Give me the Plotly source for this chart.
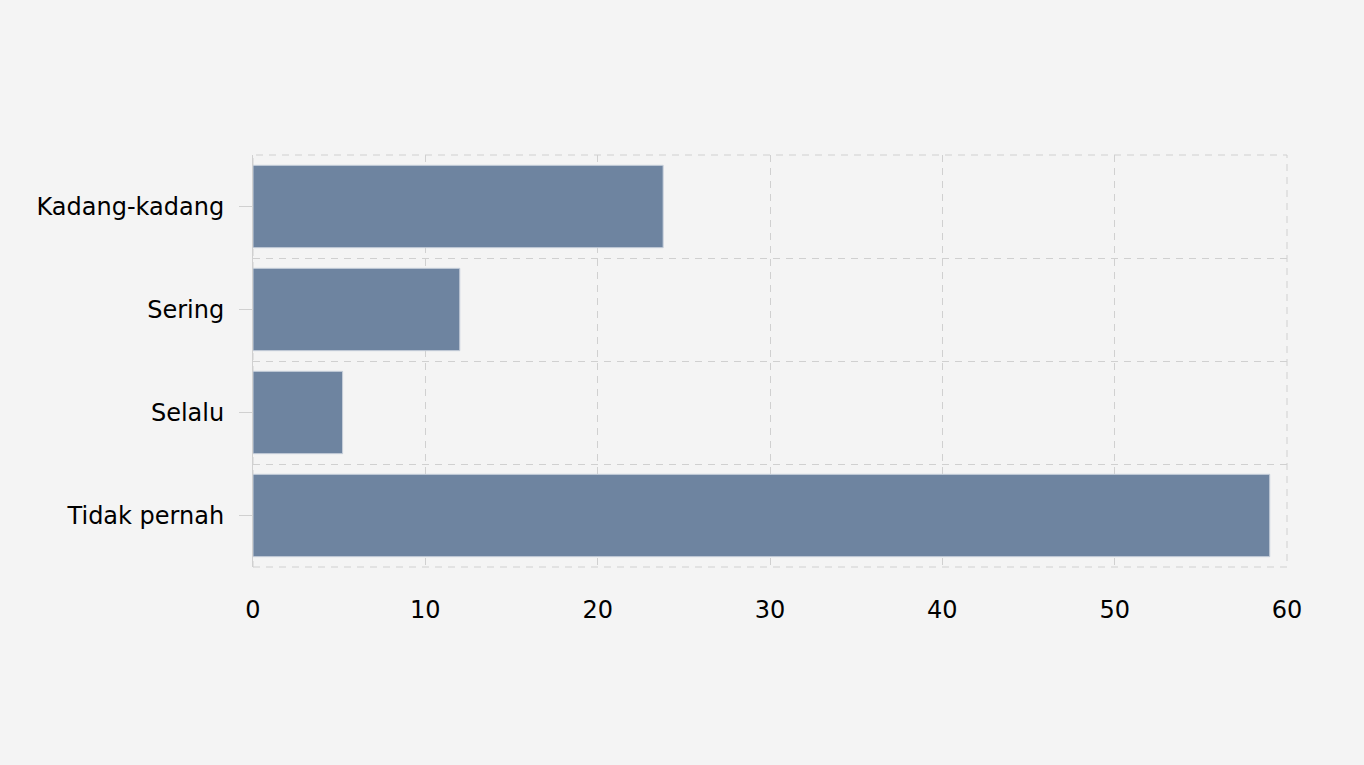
import plotly.graph_objects as go

categories = ["Tidak pernah", "Selalu", "Sering", "Kadang-kadang"]
values = [59.0, 5.2, 12.0, 23.8]
x_ticks = [0, 10, 20, 30, 40, 50, 60]

fig = go.Figure()
fig.add_trace(go.Bar(
    x=values, y=categories, orientation="h",
    marker=dict(color="#6e84a0", line=dict(color="#c9d1dc", width=1)),
    hoverinfo="x+y", showlegend=False,
))
# invisible helper trace on overlay axis to draw boundary gridlines
fig.add_trace(go.Scatter(
    x=[0] * len(categories), y=categories, yaxis="y2", mode="markers",
    marker=dict(opacity=0), hoverinfo="skip", showlegend=False,
))

grid = "#d0d0d0"
dash = "7px,6px"
fig.update_layout(
    width=1364, height=765,
    paper_bgcolor="#f4f4f4", plot_bgcolor="#f4f4f4",
    margin=dict(l=253, r=77, t=155, b=198),
    bargap=0.2,
    font=dict(family="DejaVu Sans, Verdana, sans-serif", size=24, color="#000000"),
    xaxis=dict(
        range=[0, 60], tickvals=x_ticks, showgrid=True, gridcolor=grid,
        griddash=dash, gridwidth=1, zeroline=False, showline=False,
        ticks="", ticklabelstandoff=26,
    ),
    yaxis=dict(
        type="category", categoryorder="array", categoryarray=categories,
        range=[-0.5, 3.5], showgrid=False, zeroline=False,
        showline=True, linecolor=grid, linewidth=1,
        ticks="outside", ticklen=13, tickcolor=grid, ticklabelstandoff=10,
    ),
    yaxis2=dict(
        type="category", categoryorder="array", categoryarray=categories,
        overlaying="y", range=[-0.5, 3.5], tickson="boundaries",
        showgrid=True, gridcolor=grid, griddash=dash, gridwidth=1,
        showticklabels=False, ticks="", showline=False, zeroline=False,
    ),
    shapes=[dict(
        type="rect", xref="paper", yref="paper", x0=0, x1=1, y0=0, y1=1,
        line=dict(color=grid, width=1, dash=dash), layer="below",
    )],
)

fig.write_html(
    "out.html",
    config={"displayModeBar": False},
    post_script="document.body.style.margin='0';document.body.style.background='#f4f4f4';",
)
